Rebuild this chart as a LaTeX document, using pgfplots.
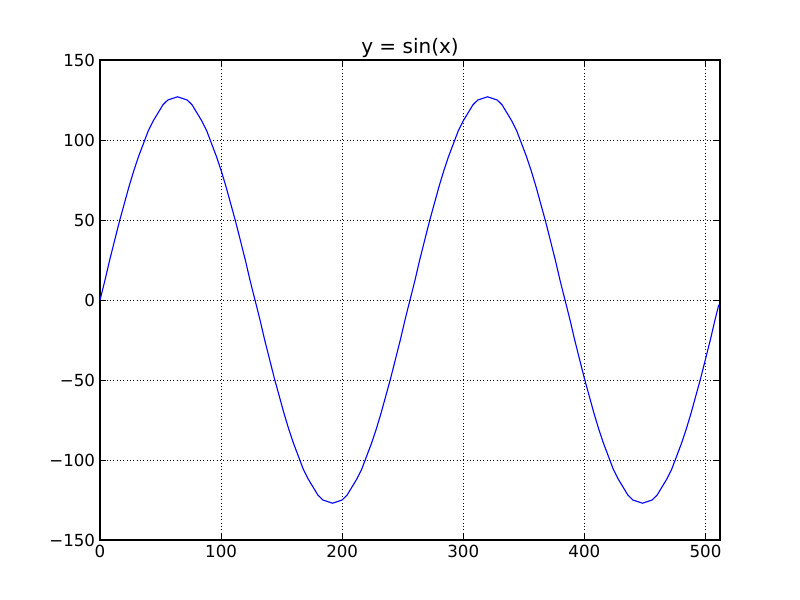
\documentclass[border=0pt]{standalone}
\usepackage{pgfplots}
\pgfplotsset{compat=1.18}
\usepackage{fontspec}
\setmainfont{DejaVu Sans}
\begin{document}
\begin{tikzpicture}
\begin{axis}[
  scale only axis,
  width=446.4pt, height=345.6pt,
  xmin=0, xmax=512, ymin=-150, ymax=150,
  xtick={0,100,200,300,400,500},
  ytick={-150,-100,-50,0,50,100,150},
  yticklabels={−150,−100,−50,0,50,100,150},
  /pgf/number format/assume math mode=true,
  tick label style={font=\fontsize{12}{14}\selectfont},
  title={y = sin(x)},
  title style={font=\fontsize{14.4}{17}\selectfont, yshift=-8pt},
  grid=major,
  major grid style={black, dotted, line width=0.5pt},
  axis line style={black, line width=0.8pt},
  tick align=inside,
  major tick length=4pt,
  tick style={black, line width=0.6pt},
  xtick pos=both, ytick pos=both,
  every tick label/.append style={black},
]
\addplot[blue, line width=0.8pt, mark=none] coordinates {
(0,0)(4,12)(8,25)(12,37)(16,49)(20,60)(24,71)(28,81)(32,90)(36,98)(40,106)(44,112)(48,117)(52,122)(56,125)(60,126)(64,127)
(68,126)(72,125)(76,122)(80,117)(84,112)(88,106)(92,98)(96,90)(100,81)(104,71)(108,60)(112,49)(116,37)(120,25)(124,12)(128,0)
(132,-12)(136,-25)(140,-37)(144,-49)(148,-60)(152,-71)(156,-81)(160,-90)(164,-98)(168,-106)(172,-112)(176,-117)(180,-122)(184,-125)(188,-126)(192,-127)
(196,-126)(200,-125)(204,-122)(208,-117)(212,-112)(216,-106)(220,-98)(224,-90)(228,-81)(232,-71)(236,-60)(240,-49)(244,-37)(248,-25)(252,-12)(256,0)
(260,12)(264,25)(268,37)(272,49)(276,60)(280,71)(284,81)(288,90)(292,98)(296,106)(300,112)(304,117)(308,122)(312,125)(316,126)(320,127)
(324,126)(328,125)(332,122)(336,117)(340,112)(344,106)(348,98)(352,90)(356,81)(360,71)(364,60)(368,49)(372,37)(376,25)(380,12)(384,0)
(388,-12)(392,-25)(396,-37)(400,-49)(404,-60)(408,-71)(412,-81)(416,-90)(420,-98)(424,-106)(428,-112)(432,-117)(436,-122)(440,-125)(444,-126)(448,-127)
(452,-126)(456,-125)(460,-122)(464,-117)(468,-112)(472,-106)(476,-98)(480,-90)(484,-81)(488,-71)(492,-60)(496,-49)(500,-37)(504,-25)(508,-12)(511,-3)
};
\end{axis}
\path (current axis.south west) ++(-72pt,-43.2pt) coordinate (bbsw);
\path (current axis.north east) ++(57.6pt,43.2pt) coordinate (bbne);
\path (bbsw) rectangle (bbne);
\end{tikzpicture}
\end{document}
